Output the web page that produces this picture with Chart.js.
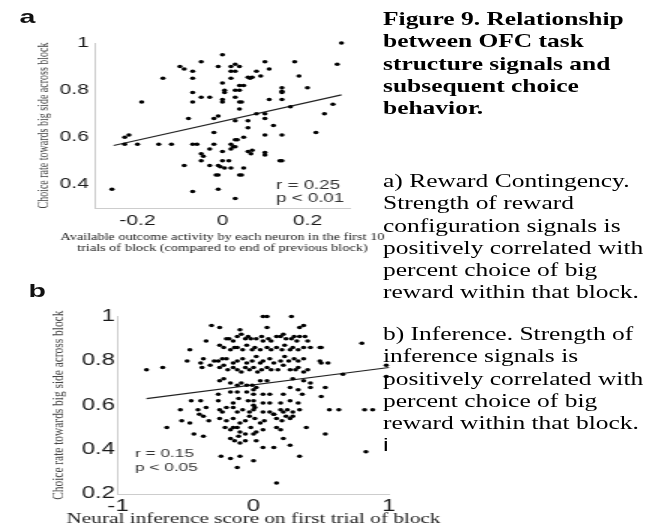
<!DOCTYPE html>
<html>
<head>
<meta charset="utf-8">
<script src="https://cdn.jsdelivr.net/npm/chart.js@4.4.1/dist/chart.umd.min.js"></script>
<style>
  html, body { margin: 0; padding: 0; background: #fff; overflow: hidden; }
  #page { position: absolute; left: 0; top: 0; width: 431px; height: 529px; transform: scaleX(1.5); transform-origin: 0 0; }
  canvas { position: absolute; left: 0; }
  #chartA { top: 0; }
  #chartB { top: 262px; }
  .letter { position: absolute; font: bold 19px "Liberation Sans", Arial, sans-serif; line-height: 19px; color: #111; }
  #caption { position: absolute; left: 383px; top: 0; transform: scaleX(1.34); transform-origin: 0 0; }
  .cap { position: absolute; left: 0; font-family: "Liberation Serif", "Times New Roman", serif; font-size: 19px; line-height: 22.3px; white-space: nowrap; color: #000; }
</style>
</head>
<body>
<div id="page">
  <canvas id="chartA" width="265" height="262"></canvas>
  <canvas id="chartB" width="300" height="267"></canvas>
  <div class="letter" style="left:13px;top:7px">a</div>
  <div class="letter" style="left:19px;top:281px">b</div>
</div>
<div id="caption">
  <div class="cap" style="top:8px;font-weight:bold">Figure 9. Relationship<br>between OFC task<br>structure signals and<br>subsequent choice<br>behavior.</div>
  <div class="cap" style="top:170px">a) Reward Contingency.<br>Strength of reward<br>configuration signals is<br>positively correlated with<br>percent choice of big<br>reward within that block.</div>
  <div class="cap" style="top:323px">b) Inference. Strength of<br>inference signals is<br>positively correlated with<br>percent choice of big<br>reward within that block.<br><span style="font-family:'Liberation Sans',Arial,sans-serif">i</span></div>
</div>
<script>
// PANEL A - reward contingency
const contingencyXTicks = [-0.2, 0, 0.2];
const contingencyYTicks = [0.4, 0.6, 0.8, 1];
const contingencyPoints = [
  [0.00,0.95],[-0.10,0.90],[-0.09,0.89],[-0.05,0.92],[-0.07,0.88],[-0.01,0.90],[0.02,0.90],[0.03,0.91],
  [0.04,0.90],[0.02,0.88],[0.03,0.88],[0.10,0.92],[0.11,0.89],[0.17,0.92],[0.08,0.88],[-0.07,0.85],
  [-0.14,0.85],[0.02,0.85],[0.06,0.855],[0.065,0.85],[0.07,0.855],[0.09,0.86],[0.18,0.86],[0.00,0.83],
  [0.04,0.82],[0.05,0.82],[0.20,0.81],[-0.07,0.79],[0.005,0.80],[0.005,0.79],[0.03,0.80],[0.04,0.80],
  [0.14,0.81],[0.14,0.795],[0.14,0.79],[-0.05,0.77],[-0.03,0.77],[-0.19,0.75],[-0.07,0.75],[0.00,0.76],
  [0.00,0.75],[0.03,0.77],[0.04,0.75],[0.045,0.75],[0.11,0.76],[0.14,0.76],[0.04,0.72],[0.08,0.70],
  [0.10,0.70],[0.16,0.73],[0.24,0.70],[-0.08,0.68],[-0.02,0.68],[-0.01,0.69],[0.03,0.67],[0.06,0.67],
  [0.10,0.68],[0.06,0.64],[0.12,0.65],[0.22,0.62],[-0.23,0.60],[-0.22,0.61],[-0.02,0.62],[0.03,0.59],
  [0.035,0.59],[0.05,0.60],[0.10,0.61],[0.14,0.61],[-0.23,0.57],[-0.20,0.57],[-0.15,0.57],[-0.12,0.57],
  [-0.07,0.57],[-0.06,0.57],[-0.02,0.57],[0.02,0.57],[0.025,0.56],[0.03,0.56],[-0.03,0.55],[0.00,0.54],
  [-0.05,0.53],[-0.045,0.52],[0.06,0.54],[0.07,0.545],[0.067,0.53],[0.10,0.535],[0.10,0.525],[0.02,0.55],
  [-0.05,0.50],[0.00,0.50],[0.015,0.50],[0.135,0.50],[0.14,0.50],[-0.09,0.48],[-0.03,0.48],[-0.01,0.48],
  [-0.005,0.475],[0.005,0.47],[0.02,0.47],[0.05,0.47],[-0.015,0.44],[-0.01,0.44],[0.04,0.44],[0.045,0.44],
  [-0.26,0.38],[-0.07,0.37],[-0.01,0.38],[0.03,0.34],[0.28,1.00],[0.27,0.91],[0.26,0.74]
];
const contingencyFit = [[-0.256, 0.565], [0.28, 0.78]];
const contingencyStats = ['r = 0.25', 'p < 0.01'];
const contingencyXTitle = ['Available outcome activity by each neuron in the first 10', 'trials of block (compared to end of previous block)'];

// PANEL B - inference
const inferenceXTicks = [-1, 0, 1];
const inferenceYTicks = [0.2, 0.4, 0.6, 0.8, 1];
const inferencePoints = [
  [0.07,1.0],[0.10,1.0],[0.28,1.0],
  [-0.31,0.96],[-0.25,0.95],[-0.10,0.94],[0.10,0.95],[0.34,0.95],[0.37,0.96],
  [-0.35,0.89],[-0.20,0.90],[-0.18,0.90],[-0.15,0.89],[-0.12,0.91],[-0.09,0.92],[-0.06,0.90],[-0.04,0.91],
  [-0.02,0.90],[0.02,0.90],[0.06,0.91],[0.07,0.89],[0.11,0.90],[0.13,0.89],[0.17,0.91],[0.20,0.91],
  [0.22,0.92],[0.24,0.90],[0.28,0.90],[0.30,0.91],[0.32,0.89],[0.34,0.91],[0.38,0.91],[0.40,0.89],[0.50,0.86],
  [-0.47,0.85],[-0.25,0.87],[-0.22,0.86],[-0.17,0.85],[-0.14,0.86],[-0.12,0.86],[-0.08,0.85],[-0.05,0.87],
  [-0.01,0.85],[0.01,0.86],[0.05,0.85],[0.10,0.86],[0.13,0.85],[0.17,0.86],[0.21,0.85],[0.23,0.87],
  [0.27,0.85],[0.29,0.86],[0.33,0.85],[0.37,0.86],[0.42,0.86],[0.49,0.86],
  [-0.49,0.80],[-0.39,0.79],[-0.37,0.81],[-0.29,0.80],[-0.26,0.80],[-0.23,0.81],[-0.20,0.81],[-0.15,0.79],
  [-0.12,0.80],[-0.08,0.81],[-0.05,0.79],[-0.01,0.80],[0.02,0.82],[0.05,0.79],[0.07,0.80],[0.12,0.81],
  [0.15,0.79],[0.20,0.80],[0.23,0.82],[0.26,0.80],[0.30,0.81],[0.33,0.80],[0.37,0.81],[0.49,0.80],[0.50,0.79],[0.55,0.79],
  [-0.79,0.76],[-0.67,0.77],[-0.38,0.77],[-0.32,0.78],[-0.25,0.77],[-0.22,0.78],[-0.19,0.76],[-0.15,0.77],
  [-0.12,0.76],[-0.09,0.75],[-0.06,0.77],[-0.03,0.76],[0.00,0.77],[0.03,0.75],[0.06,0.76],[0.10,0.77],
  [0.13,0.76],[0.18,0.76],[0.22,0.78],[0.27,0.76],[0.31,0.76],[0.33,0.77],[0.37,0.75],[0.40,0.76],
  [-0.25,0.71],[-0.22,0.72],[-0.17,0.70],[-0.12,0.69],[-0.09,0.70],[-0.05,0.69],[-0.01,0.69],[0.02,0.68],
  [0.05,0.71],[0.10,0.71],[0.29,0.72],[0.37,0.71],[0.42,0.70],[0.53,0.68],
  [-0.26,0.65],[-0.17,0.66],[-0.12,0.66],[-0.05,0.66],[0.00,0.67],[0.00,0.65],[0.07,0.65],[0.12,0.65],
  [0.22,0.65],[0.27,0.68],[0.33,0.67],[0.36,0.65],[0.42,0.68],[0.50,0.64],
  [-0.39,0.62],[-0.26,0.62],[-0.15,0.61],[-0.11,0.63],[-0.04,0.62],[0.00,0.62],[0.00,0.60],[0.07,0.61],
  [0.12,0.61],[0.20,0.61],[0.27,0.62],[0.33,0.61],
  [-0.54,0.58],[-0.46,0.62],[-0.41,0.58],[-0.35,0.59],[-0.25,0.58],[-0.23,0.57],[-0.20,0.59],[-0.15,0.59],
  [-0.12,0.57],[-0.08,0.58],[-0.03,0.57],[0.00,0.58],[0.01,0.59],[0.07,0.57],[0.12,0.57],[0.15,0.56],
  [0.20,0.58],[0.22,0.57],[0.24,0.55],[0.25,0.58],[0.29,0.57],[0.34,0.58],[0.56,0.58],
  [-0.64,0.50],[-0.53,0.53],[-0.47,0.52],[-0.40,0.56],[-0.37,0.55],[-0.33,0.53],[-0.25,0.54],[-0.20,0.53],
  [-0.15,0.54],[-0.10,0.52],[-0.06,0.53],[-0.03,0.55],[0.01,0.54],[0.05,0.52],[0.08,0.53],[0.15,0.56],
  [0.17,0.54],[0.21,0.53],[0.27,0.54],[0.29,0.55],
  [-0.44,0.47],[-0.37,0.46],[-0.21,0.50],[-0.17,0.49],[-0.15,0.50],[-0.12,0.50],[-0.10,0.48],[-0.06,0.47],
  [-0.02,0.50],[0.02,0.48],[0.07,0.49],[0.17,0.50],[0.20,0.49],[0.39,0.50],[0.53,0.47],
  [-0.17,0.45],[-0.14,0.44],[-0.11,0.46],[-0.10,0.43],[-0.06,0.44],[0.00,0.47],[0.02,0.44],[0.07,0.41],
  [0.15,0.41],[0.22,0.45],[0.27,0.42],
  [-0.24,0.37],[-0.17,0.36],[-0.10,0.37],[0.00,0.35],[0.34,0.37],
  [-0.12,0.32],[0.17,0.25],
  [0.80,0.88],[0.98,0.78],[0.98,0.73],[0.66,0.74],[0.63,0.58],[0.82,0.58],[0.88,0.58],[0.83,0.39]
];
const inferenceFit = [[-0.79, 0.63], [1, 0.77]];
const inferenceStats = ['r = 0.15', 'p < 0.05'];
const inferenceXTitle = ['Neural inference score on first trial of block'];

// r / p text and the x-axis title (chart.js would squeeze the title to the axis width)
const extraText = {
  id: 'extraText',
  afterDraw(chart, args, opts) {
    const ctx = chart.ctx;
    const sx = chart.scales.x;
    ctx.save();
    ctx.textBaseline = 'middle';
    ctx.fillStyle = '#333';
    ctx.font = opts.statSize + 'px "Liberation Sans", Arial, sans-serif';
    opts.stats.forEach((t, i) => ctx.fillText(t, opts.statX, opts.statY + i * opts.statStep));
    ctx.fillStyle = '#222';
    ctx.textAlign = 'center';
    ctx.font = opts.titleSize + 'px "Liberation Serif", "Times New Roman", serif';
    const cx = (sx.left + sx.right) / 2;
    opts.title.forEach((t, i) => ctx.fillText(t, cx, opts.titleY + i * opts.titleStep));
    ctx.restore();
  }
};

function scatterPanel(id, o) {
  const toXY = arr => arr.map(([x, y]) => ({ x, y }));
  const fmt = v => String(+v.toFixed(2));
  return new Chart(document.getElementById(id), {
    type: 'scatter',
    data: {
      datasets: [
        { data: toXY(o.points), backgroundColor: '#000', borderWidth: 0, pointRadius: 1.75, clip: false },
        { data: toXY(o.fit), showLine: true, borderColor: '#222', borderWidth: 1.1, pointRadius: 0, clip: false }
      ]
    },
    options: {
      responsive: false,
      animation: false,
      events: [],
      layout: { padding: { left: 0, top: o.top, right: o.right, bottom: 0 } },
      plugins: {
        legend: { display: false },
        tooltip: { enabled: false },
        extraText: o.text
      },
      scales: {
        x: {
          min: o.xMin, max: o.xMax,
          afterBuildTicks: s => { s.ticks = o.xTicks.map(v => ({ value: v })); },
          afterFit: s => { s.height = o.xAxisH; },
          grid: { drawOnChartArea: false, drawTicks: false },
          border: { color: '#cdcdcd' },
          ticks: { color: '#1a1a1a', autoSkip: false, maxRotation: 0, padding: o.xPad, callback: fmt,
                   font: { family: 'Liberation Sans', size: o.tickSize } }
        },
        y: {
          min: o.yMin, max: o.yMax,
          afterBuildTicks: s => { s.ticks = o.yTicks.map(v => ({ value: v })); },
          afterFit: s => { s.width = o.yAxisW; },
          grid: { drawOnChartArea: false, drawTicks: false },
          border: { color: '#cdcdcd' },
          ticks: { color: '#1a1a1a', autoSkip: false, padding: o.yPad, callback: fmt,
                   font: { family: 'Liberation Sans', size: o.tickSize } },
          title: { display: true, text: 'Choice rate towards big side across block', color: '#444',
                   font: { family: 'Liberation Serif', size: o.yTitleSize, lineHeight: 1.2 },
                   padding: { top: o.yTitlePad, bottom: 0 } }
        }
      }
    },
    plugins: [extraText]
  });
}

scatterPanel('chartA', {
  points: contingencyPoints, fit: contingencyFit,
  xMin: -0.3, xMax: 0.3, yMin: 0.3, yMax: 1,
  xTicks: contingencyXTicks, yTicks: contingencyYTicks,
  top: 43, right: 31.7, xAxisH: 54, yAxisW: 63.3,
  tickSize: 14, xPad: 5, yPad: 4,
  yTitleSize: 10, yTitlePad: 23,
  text: { stats: contingencyStats, statX: 184, statY: 186, statStep: 13, statSize: 12.5,
          title: contingencyXTitle, titleSize: 9.5, titleY: 237, titleStep: 11.5 }
});

scatterPanel('chartB', {
  points: inferencePoints, fit: inferenceFit,
  xMin: -1, xMax: 1, yMin: 0.2, yMax: 1,
  xTicks: inferenceXTicks, yTicks: inferenceYTicks,
  top: 54.5, right: 40.7, xAxisH: 35, yAxisW: 78.7,
  tickSize: 16, xPad: 3, yPad: 2,
  yTitleSize: 11.4, yTitlePad: 32,
  text: { stats: inferenceStats, statX: 90, statY: 192, statStep: 13.5, statSize: 11.5,
          title: inferenceXTitle, titleSize: 14.2, titleY: 257.5, titleStep: 0 }
});
</script>
</body>
</html>
